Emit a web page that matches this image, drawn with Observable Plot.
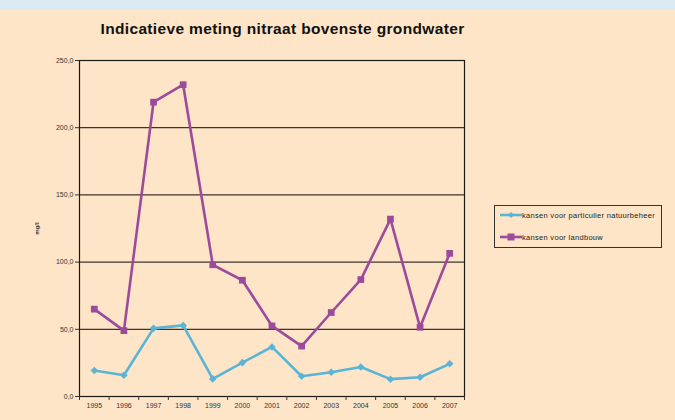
<!DOCTYPE html>
<html>
<head>
<meta charset="utf-8">
<script src="https://cdn.jsdelivr.net/npm/d3@7"></script>
<script src="https://cdn.jsdelivr.net/npm/@observablehq/plot@0.6"></script>
<style>
  body { margin: 0; }
  #page { position: relative; width: 675px; height: 420px; background: #fee5c7; overflow: hidden; font-family: "Liberation Sans", Arial, sans-serif; }
  #band { position: absolute; left: 0; top: 0; width: 675px; height: 9px; background: #d9eaf2; }
  #title { position: absolute; left: 80px; top: 20px; width: 405px; text-align: center; font-weight: bold; font-size: 15.5px; letter-spacing: 0.35px; color: #111; }
  #chart { position: absolute; left: 0; top: 0; }
  #legend { position: absolute; left: 494px; top: 205px; width: 168px; height: 43px; border: 1px solid #333; box-sizing: border-box; font-size: 7.5px; letter-spacing: 0.3px; color: #222; }
  .item { position: absolute; left: 5px; display: flex; align-items: center; height: 8px; }
  .item svg { margin-right: 0px; }
  g[aria-label="y-axis label"] text { font-weight: bold; font-size: 6px; }
</style>
</head>
<body>
<div id="page">
  <div id="band"></div>
  <div id="title">Indicatieve meting nitraat bovenste grondwater</div>
  <div id="chart"></div>
  <div id="legend"></div>
</div>
<script>
const years = [1995, 1996, 1997, 1998, 1999, 2000, 2001, 2002, 2003, 2004, 2005, 2006, 2007];
const natuurbeheer = [19.3, 15.8, 50.7, 52.9, 13.1, 25.2, 36.9, 15.1, 18.0, 22.0, 12.9, 14.3, 24.3];
const landbouw = [65.0, 49.0, 219.0, 232.0, 98.0, 86.5, 52.5, 37.5, 62.5, 87.0, 132.0, 51.5, 106.5];
const seriesNames = ["kansen voor particulier natuurbeheer", "kansen voor landbouw"];
const yTicks = [0, 50, 100, 150, 200, 250];

const colors = ["#5ab4d6", "#9c4a9c"];
const data = [
  ...years.map((y, i) => ({year: y, value: natuurbeheer[i], series: seriesNames[0]})),
  ...years.map((y, i) => ({year: y, value: landbouw[i], series: seriesNames[1]}))
];

const chart = Plot.plot({
  width: 675,
  height: 420,
  marginLeft: 79,
  marginRight: 211,
  marginTop: 60,
  marginBottom: 24,
  style: {background: "transparent", fontFamily: "Liberation Sans, Arial, sans-serif", fontSize: "7px", color: "#333"},
  x: {type: "linear", domain: [years[0] - 0.5, years[years.length - 1] + 0.5]},
  y: {domain: [0, 250]},
  color: {domain: seriesNames, range: colors},
  symbol: {domain: seriesNames, range: ["diamond2", "square"]},
  marks: [
    Plot.ruleY(yTicks.slice(1, -1), {stroke: "#3a3530", strokeWidth: 1.2}),
    Plot.frame({stroke: "#1a1a1a", strokeWidth: 1.2}),
    Plot.axisY({ticks: yTicks, tickFormat: d => d.toFixed(1).replace(".", ","), tickSize: 4, tickPadding: 2,
      label: "mg/l", labelAnchor: "center", labelArrow: "none", labelOffset: 45}),
    Plot.axisX({ticks: years, tickFormat: d => String(d), tickSize: 0, tickPadding: 7, label: null}),
    Plot.axisX({ticks: [...years.map(y => y - 0.5), years[years.length - 1] + 0.5], tickFormat: () => "", tickSize: 4, label: null}),
    Plot.line(data, {x: "year", y: "value", stroke: "series", z: "series", strokeWidth: 2.6}),
    Plot.dot(data.filter(d => d.series === seriesNames[0]), {x: "year", y: "value", fill: "series", symbol: "series", r: 3.4}),
    Plot.dot(data.filter(d => d.series === seriesNames[1]), {x: "year", y: "value", fill: "series", symbol: "series", r: 3.8})
  ]
});
document.getElementById("chart").appendChild(chart);

// legend
const legend = document.getElementById("legend");
seriesNames.forEach((name, i) => {
  const item = document.createElement("div");
  item.className = "item";
  item.style.top = (i === 0 ? 5 : 27) + "px";
  const marker = i === 0
    ? `<path d="M11,1 L14,4 L11,7 L8,4 Z" fill="${colors[i]}"/>`
    : `<rect x="7.5" y="0.5" width="7" height="7" fill="${colors[i]}"/>`;
  item.innerHTML = `<svg width="22" height="8"><line x1="0" x2="22" y1="4" y2="4" stroke="${colors[i]}" stroke-width="2.6"/>${marker}</svg><span>${name}</span>`;
  legend.appendChild(item);
});
</script>
</body>
</html>
